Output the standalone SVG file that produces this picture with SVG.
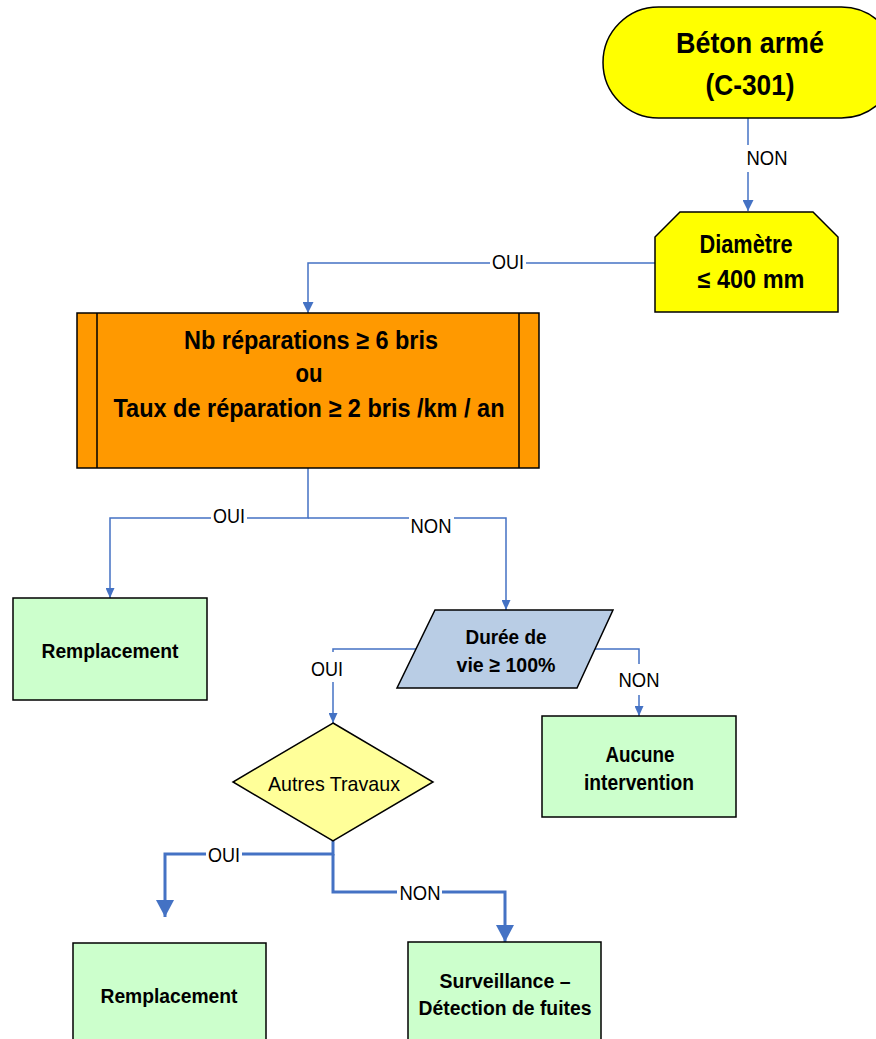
<svg xmlns="http://www.w3.org/2000/svg" width="876" height="1039" viewBox="0 0 876 1039">
<style>
.shape{stroke:#000;stroke-width:1.5}
.b{font-family:"Liberation Sans",Arial,sans-serif;font-weight:bold;fill:#000;text-anchor:middle}
.r{font-family:"Liberation Sans",Arial,sans-serif;fill:#000;text-anchor:middle}
.lbl{font-family:"Liberation Sans",Arial,sans-serif;font-size:20px;fill:#000;text-anchor:middle}
.ln{fill:none;stroke:#4472C4;stroke-width:1.5}
.lnt{fill:none;stroke:#4472C4;stroke-width:3}
</style>
<defs>
<marker id="a" markerUnits="userSpaceOnUse" markerWidth="11" markerHeight="11" refX="11" refY="5.5" orient="auto"><path d="M0,0 L11,5.5 L0,11 z" fill="#4472C4"/></marker>
<marker id="as" markerUnits="userSpaceOnUse" markerWidth="10" markerHeight="9" refX="10" refY="4.5" orient="auto"><path d="M0,0 L10,4.5 L0,9 z" fill="#4472C4"/></marker>
<marker id="ab" markerUnits="userSpaceOnUse" markerWidth="18" markerHeight="18" refX="17" refY="9" orient="auto"><path d="M0,0 L17,9 L0,18 z" fill="#4472C4"/></marker>
</defs>
<rect width="876" height="1039" fill="#fff"/>

<g id="connectors">
<path class="ln" d="M748,118 V145"/>
<path class="ln" d="M748,172 V211" marker-end="url(#a)"/>
<text class="lbl" x="767" y="165" textLength="41" lengthAdjust="spacingAndGlyphs">NON</text>

<path class="ln" d="M655,263 H526"/>
<path class="ln" d="M490,263 H308 V313" marker-end="url(#a)"/>
<text class="lbl" x="508" y="269" textLength="32" lengthAdjust="spacingAndGlyphs">OUI</text>

<path class="ln" d="M308,468 V518 H247"/>
<path class="ln" d="M211,518 H110 V598" marker-end="url(#as)"/>
<text class="lbl" x="229" y="523" textLength="32" lengthAdjust="spacingAndGlyphs">OUI</text>
<path class="ln" d="M308,518 H409"/>
<path class="ln" d="M454,518 H506 V610" marker-end="url(#as)"/>
<text class="lbl" x="431" y="533" textLength="41" lengthAdjust="spacingAndGlyphs">NON</text>

<path class="ln" d="M416,649 H333 V652"/>
<path class="ln" d="M333,682 V723" marker-end="url(#as)"/>
<text class="lbl" x="327" y="676" textLength="32" lengthAdjust="spacingAndGlyphs">OUI</text>
<path class="ln" d="M595,649 H639 V664"/>
<path class="ln" d="M639,695 V716" marker-end="url(#as)"/>
<text class="lbl" x="639" y="687" textLength="41" lengthAdjust="spacingAndGlyphs">NON</text>

<path class="lnt" d="M333,841 V854 H242"/>
<path class="lnt" d="M206,854 H165 V917" marker-end="url(#ab)"/>
<text class="lbl" x="224" y="862" textLength="32" lengthAdjust="spacingAndGlyphs">OUI</text>
<path class="lnt" d="M333,854 V892 H397"/>
<path class="lnt" d="M442,892 H505 V942" marker-end="url(#ab)"/>
<text class="lbl" x="420" y="900" textLength="41" lengthAdjust="spacingAndGlyphs">NON</text>
</g>

<g id="n-beton">
<rect class="shape" x="603" y="7" width="294" height="111" rx="55.5" ry="55.5" fill="#FFFF00"/>
<text class="b" x="750" y="53" font-size="29" textLength="148" lengthAdjust="spacingAndGlyphs">Béton armé</text>
<text class="b" x="750" y="95" font-size="29" textLength="89" lengthAdjust="spacingAndGlyphs">(C-301)</text>
</g>

<g id="n-diametre">
<path class="shape" d="M680,212 H813 L838,237 V312 H655 V237 Z" fill="#FFFF00"/>
<text class="b" x="746" y="253" font-size="25" textLength="93" lengthAdjust="spacingAndGlyphs">Diamètre</text>
<text class="b" x="751" y="288" font-size="25" textLength="107" lengthAdjust="spacingAndGlyphs">≤ 400 mm</text>
</g>

<g id="n-reparations">
<rect class="shape" x="77" y="313" width="462" height="155" fill="#FF9900"/>
<path class="shape" d="M97,313 V468 M519,313 V468" fill="none"/>
<text class="b" x="311" y="349" font-size="26" textLength="254" lengthAdjust="spacingAndGlyphs">Nb réparations ≥ 6 bris</text>
<text class="b" x="309" y="382" font-size="26" textLength="27" lengthAdjust="spacingAndGlyphs">ou</text>
<text class="b" x="309" y="417" font-size="26" textLength="391" lengthAdjust="spacingAndGlyphs">Taux de réparation ≥ 2 bris /km / an</text>
</g>

<g id="n-remplacement1">
<rect class="shape" x="13" y="598" width="194" height="102" fill="#CCFFCC"/>
<text class="b" x="110" y="658" font-size="21" textLength="137" lengthAdjust="spacingAndGlyphs">Remplacement</text>
</g>

<g id="n-duree">
<path class="shape" d="M435,610 H613 L577,688 H397 Z" fill="#B9CDE5"/>
<text class="b" x="506" y="644" font-size="21" textLength="81" lengthAdjust="spacingAndGlyphs">Durée de</text>
<text class="b" x="506" y="672" font-size="21" textLength="99" lengthAdjust="spacingAndGlyphs">vie ≥ 100%</text>
</g>

<g id="n-aucune">
<rect class="shape" x="542" y="716" width="194" height="101" fill="#CCFFCC"/>
<text class="b" x="640" y="762" font-size="22" textLength="69" lengthAdjust="spacingAndGlyphs">Aucune</text>
<text class="b" x="639" y="790" font-size="22" textLength="110" lengthAdjust="spacingAndGlyphs">intervention</text>
</g>

<g id="n-autres">
<path class="shape" d="M333,723 L433,782 L333,841 L233,782 Z" fill="#FFFF99"/>
<text class="r" x="334" y="791" font-size="21" textLength="132" lengthAdjust="spacingAndGlyphs">Autres Travaux</text>
</g>

<g id="n-remplacement2">
<rect class="shape" x="73" y="943" width="193" height="120" fill="#CCFFCC"/>
<text class="b" x="169" y="1003" font-size="21" textLength="137" lengthAdjust="spacingAndGlyphs">Remplacement</text>
</g>

<g id="n-surveillance">
<rect class="shape" x="408" y="942" width="193" height="120" fill="#CCFFCC"/>
<text class="b" x="505" y="988" font-size="21" textLength="131" lengthAdjust="spacingAndGlyphs">Surveillance –</text>
<text class="b" x="505" y="1015" font-size="21" textLength="173" lengthAdjust="spacingAndGlyphs">Détection de fuites</text>
</g>
</svg>
